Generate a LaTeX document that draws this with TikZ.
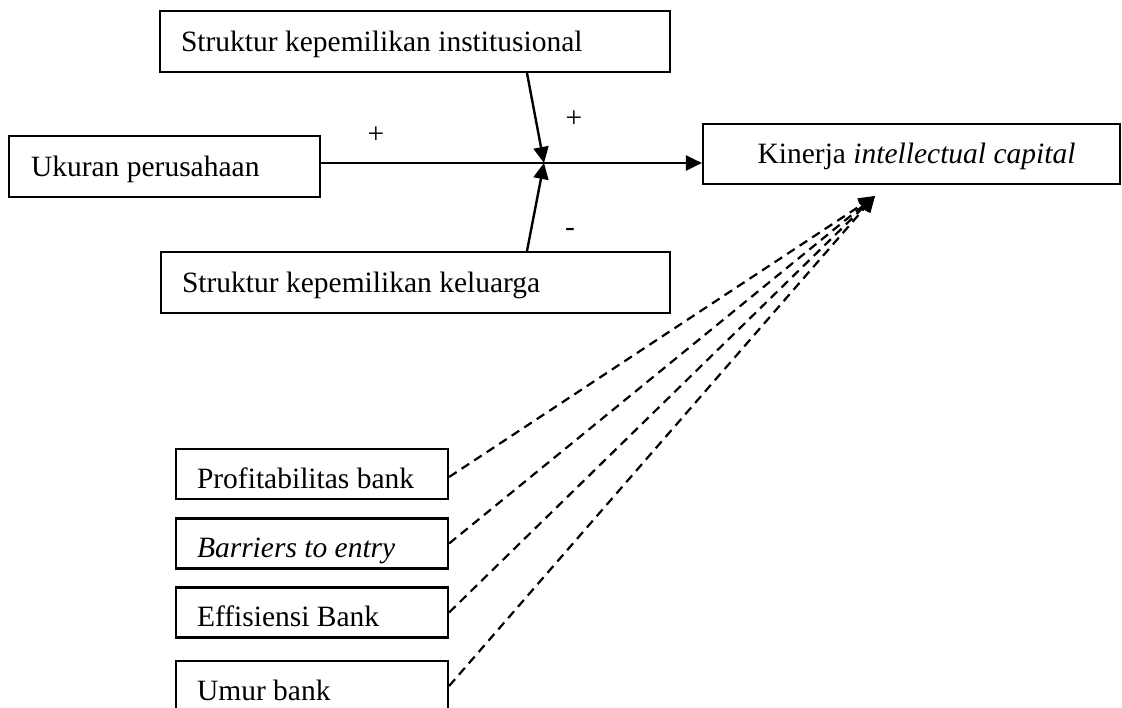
\documentclass[tikz,border=0pt]{standalone}
\usepackage{fontspec}
\setmainfont{Liberation Serif}
\usetikzlibrary{arrows.meta}
\begin{document}
\begin{tikzpicture}[x=1pt,y=-1pt,
  box/.style={draw, line width=2.2pt, inner ysep=0pt, minimum height=61pt,
    text height=20pt, text depth=0pt, font=\fontsize{29.5}{34}\selectfont},
  smallbox/.style={box, minimum height=50pt, text height=28pt, inner xsep=21pt},
  lbl/.style={inner sep=0pt, font=\fontsize{29.5}{34}\selectfont},
  arr/.style={line width=2.4pt, -{Triangle[length=16pt,width=15pt]}},
  darr/.style={arr, line width=2.2pt, dash pattern=on 9pt off 6pt}
]
\useasboundingbox (0,0) rectangle (1122,708);
\fill[white] (0,0) rectangle (1122,708);

\node[box, inner xsep=21pt] (inst) at (415,41.5) {\makebox[468pt][l]{Struktur kepemilikan institusional}};
\node[box, inner xsep=22pt] (ukuran) at (164.5,166.5) {\makebox[267pt][l]{Ukuran perusahaan}};
\node[box, inner xsep=21pt] (family) at (415.5,282.5) {\makebox[467pt][l]{Struktur kepemilikan keluarga}};
\node[box, minimum width=417pt, minimum height=60pt, inner xsep=0pt] (kinerja) at (911.5,154) {\hspace*{10pt}Kinerja \textit{intellectual capital}};

\node[smallbox] (profit) at (312,474) {\makebox[230pt][l]{Profitabilitas bank}};
\node[smallbox] (barrier) at (312,543.5) {\makebox[230pt][l]{\textit{Barriers to entry}}};
\node[smallbox] (eff) at (312,612.5) {\makebox[230pt][l]{Effisiensi Bank}};
\node[smallbox] (umur) at (312,686) {\makebox[230pt][l]{Umur bank}};

\node[lbl] (p1) at (376,135) {+};
\node[lbl] (p2) at (574,119) {+};
\node[lbl] (m1) at (570,232) {-};

\coordinate (j) at (544,163);
\coordinate (tx) at (527,0);
\coordinate (tip) at (875,196);

\draw[arr] (ukuran.east |- j) -- (kinerja.west |- j);
\draw[arr] (inst.south -| tx) -- (j);
\draw[arr] (family.north -| tx) -- (j);

\draw[darr] ([yshift=-3pt]profit.east) -- (tip);
\draw[darr] (barrier.east) -- (tip);
\draw[darr] (eff.east) -- (tip);
\draw[darr] (umur.east) -- (tip);
\end{tikzpicture}
\end{document}
